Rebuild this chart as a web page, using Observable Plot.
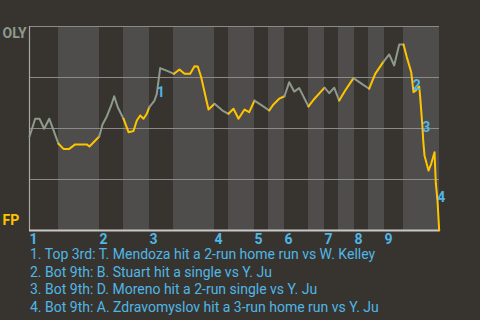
<!DOCTYPE html>
<html>
<head>
<meta charset="utf-8">
<script src="https://cdn.jsdelivr.net/npm/d3@7"></script>
<script src="https://cdn.jsdelivr.net/npm/@observablehq/plot@0.6"></script>
<style>
  html, body { margin: 0; padding: 0; background: #373430; width: 480px; height: 320px; overflow: hidden; }
  #chart svg { display: block; }
  #notes { font-family: Roboto, "Noto Sans", sans-serif; font-size: 14px; line-height: 17.7px; color: #4fb7e6; padding-left: 30px; white-space: nowrap; }
</style>
</head>
<body>
<div id="chart"></div>
<div id="notes"></div>
<script>
// Game progress (plays) and OLY win probability
const playX = [0,0.88,1.67,2.93,4.30,5.77,7.23,8.49,9.95,11.62,13.38,16.77,17.56,20.40,21.37,22.62,23.91,24.79,25.84,27.51,
  28.98,30.44,31.41,32.40,33.37,34.33,35.03,36.59,37.26,38.25,40.48,42.29,43.90,45.37,47.03,48.29,49.26,50.25,52.39,54.15,
  56.49,58.24,59.71,61.17,62.93,64.30,65.85,67.99,70.16,71.41,73.08,74.63,76.01,77.47,78.94,81.66,83.41,86.34,87.72,89.18,
  90.64,92.40,94.83,97.26,99.42,101.18,103.61,105.28,106.74,108.21,109.46,110.43,111.72,112.39,113.06,114.06,114.35,115.02,
  115.23,115.61,116.78,117.57,118.54,118.92,119.41,119.91];
const winProb = [0.461,0.506,0.548,0.548,0.499,0.548,0.482,0.425,0.400,0.400,0.422,0.422,0.412,0.461,0.520,0.559,0.613,0.658,0.604,0.548,
  0.482,0.488,0.539,0.564,0.548,0.572,0.604,0.637,0.670,0.796,0.781,0.768,0.789,0.768,0.768,0.805,0.804,0.751,0.593,0.621,
  0.588,0.572,0.597,0.548,0.593,0.580,0.637,0.613,0.588,0.618,0.646,0.658,0.727,0.681,0.698,0.608,0.646,0.700,0.673,0.700,
  0.637,0.686,0.747,0.719,0.695,0.768,0.828,0.863,0.809,0.912,0.912,0.850,0.776,0.678,0.686,0.706,0.653,0.506,
  0.441,0.368,0.294,0.327,0.384,0.232,0.147,0.000];
// Half-inning start positions (top, bottom alternating) and game end
const halfStarts = [0,8.49,20.49,27.51,35.12,42.15,54.15,58.24,65.85,69.95,74.63,81.66,86.34,90.44,95.12,99.22,103.9,109.46];
const gameEnd = 120;
const inningLabels = ["1","2","3","4","5","6","7","8","9"];
// Key events
const eventIds = ["1","2","3","4"];
const eventX = [38.44,113.36,116.11,120.5];
const eventY = [0.678,0.711,0.506,0.163];
const eventText = [
  "1. Top 3rd: T. Mendoza hit a 2-run home run vs W. Kelley",
  "2. Bot 9th: B. Stuart hit a single vs Y. Ju",
  "3. Bot 9th: D. Moreno hit a 2-run single vs Y. Ju",
  "4. Bot 9th: A. Zdravomyslov hit a 3-run home run vs Y. Ju"
];
const teamTop = "OLY", teamBottom = "FP";

const GRAY = "#8e9a8c", YELLOW = "#ffc400", BLUE = "#4fb7e6";

const halves = halfStarts.map((s, i) => ({start: s, end: i + 1 < halfStarts.length ? halfStarts[i + 1] : gameEnd, i}));
const bottomHalves = halves.filter(h => h.i % 2 === 1);
const topStarts = halves.filter(h => h.i % 2 === 0).map(h => h.start);
const halfOf = x => { let k = 0; halfStarts.forEach((s, i) => { if (x >= s) k = i; }); return k; };

const rows = [];
for (let k = 0; k < playX.length - 1; k++) {
  const h = halfOf((playX[k] + playX[k + 1]) / 2);
  rows.push({x: playX[k], y: winProb[k], h}, {x: playX[k + 1], y: winProb[k + 1], h});
}
const events = eventIds.map((id, i) => ({id, x: eventX[i], y: eventY[i]}));

const font = "Roboto, 'Noto Sans', sans-serif";
const plot = Plot.plot({
  width: 480, height: 246,
  marginTop: 26, marginBottom: 16, marginLeft: 29, marginRight: 41,
  x: {domain: [0, gameEnd], axis: null},
  y: {domain: [0, 1], axis: null},
  style: {background: "transparent", fontFamily: font, overflow: "visible"},
  marks: [
    Plot.rectX(bottomHalves, {x1: "start", x2: "end", y1: 0, y2: 1, fill: "#4f4d4b"}),
    Plot.ruleY([0.25, 0.5, 0.75, 1], {stroke: "#8c8a87", strokeWidth: 1.2}),
    Plot.ruleX([0], {y1: 0, y2: 1, stroke: "#a9a7a4", strokeWidth: 1.2}),
    Plot.ruleY([0], {stroke: "#c9c8c6", strokeWidth: 2}),
    Plot.line(rows, {x: "x", y: "y", z: "h", stroke: d => d.h % 2 === 0 ? GRAY : YELLOW, strokeWidth: 2, strokeLinejoin: "round"}),
    Plot.text(events, {x: "x", y: "y", text: "id", fill: BLUE, fontWeight: "bold", fontSize: 14}),
    Plot.text(topStarts, {x: d => d, y: 0, text: (d, i) => inningLabels[i], textAnchor: "start", dy: 9, fill: BLUE, fontWeight: "bold", fontSize: 14}),
    Plot.text([teamTop], {frameAnchor: "left", y: 1, text: d => d, textAnchor: "start", dx: -27, dy: 7, fill: GRAY, fontWeight: "bold", fontSize: 14}),
    Plot.text([teamBottom], {frameAnchor: "left", y: 0, text: d => d, textAnchor: "start", dx: -27, dy: -10, fill: YELLOW, fontWeight: "bold", fontSize: 14})
  ]
});
document.getElementById("chart").appendChild(plot);
const notes = document.getElementById("notes");
eventText.forEach(t => { const d = document.createElement("div"); d.textContent = t; notes.appendChild(d); });
</script>
</body>
</html>
